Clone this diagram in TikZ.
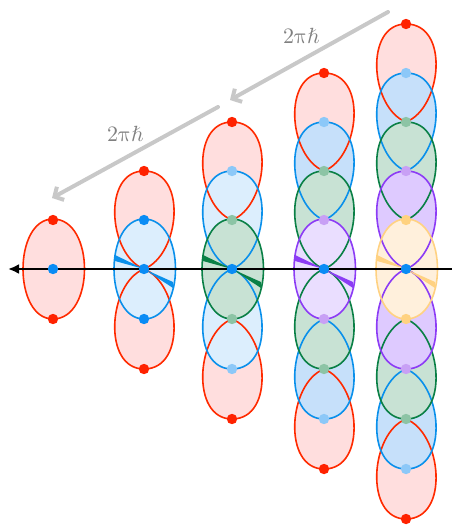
\documentclass[tikz,border=0pt]{standalone}
\usepackage{amsmath}
\usepackage{amssymb}
\usepackage{fontspec}
\usepackage{tikz}
\usetikzlibrary{arrows.meta}
\newfontfamily\hopfont{Latin Modern Math}

\definecolor{redline}{RGB}{255,42,0}
\definecolor{redfill}{RGB}{255,222,222}
\definecolor{reddot}{RGB}{255,34,0}
\definecolor{blueline}{RGB}{10,144,235}
\definecolor{bluedot}{RGB}{10,140,245}
\definecolor{bluefillA}{RGB}{220,238,253}
\definecolor{bluefillB}{RGB}{198,224,250}
\definecolor{lightbluedot}{RGB}{140,200,248}
\definecolor{greenline}{RGB}{10,128,70}
\definecolor{greenfill}{RGB}{200,226,212}
\definecolor{greendot}{RGB}{140,196,165}
\definecolor{purpleline}{RGB}{140,60,245}
\definecolor{purplefillA}{RGB}{234,222,255}
\definecolor{purplefillB}{RGB}{222,202,255}
\definecolor{purpledot}{RGB}{200,160,245}
\definecolor{yellowline}{RGB}{255,210,130}
\definecolor{yellowfill}{RGB}{255,240,220}
\definecolor{yellowdot}{RGB}{255,210,128}
\definecolor{hopgray}{RGB}{200,200,200}
\definecolor{labelgray}{RGB}{128,128,128}

% ring through the axis, level 1
\newcommand{\ringpath}[2]{\path[#1] (#2,219) .. controls +(-40,0) and +(-40,0) .. (#2,319) .. controls +(42,0) and +(42,0) .. (#2,219) -- cycle;}
% pair of lobes, level #3
\newcommand{\lobepair}[3]{%
\path[#1] (#2,{269-49*#3}) .. controls +(-42,0) and +(-36,-14) .. (#2,{269-49*(#3-2)}) .. controls +(36,-14) and +(44,0) .. (#2,{269-49*#3}) -- cycle;
\path[#1] (#2,{269+50*#3}) .. controls +(-42,0) and +(-36,14) .. (#2,{269+50*(#3-2)}) .. controls +(36,14) and +(44,0) .. (#2,{269+50*#3}) -- cycle;}
% twisted bit at the axis
\newcommand{\twist}[2]{\fill[#1] (#2,269) -- ({#2-29},255) -- ({#2-29},261) -- cycle; \fill[#1] (#2,269) -- ({#2+29},282) -- ({#2+29},288) -- cycle;}
\newcommand{\dotpair}[3]{\fill[#1] (#2,{269-49*#3}) circle (5.2pt); \fill[#1] (#2,{269+50*#3}) circle (5.2pt);}

\begin{document}
\begin{tikzpicture}[x=1pt,y=-1pt,
  ln/.style={line width=1.6pt},
  hop/.style={line width=4pt,draw=hopgray,line cap=round,-{Straight Barb[length=7pt,width=15pt]}},
  hoplabel/.style={text=labelgray,font=\hopfont\fontsize{22}{26}\selectfont},
  axis/.style={line width=2.6pt,-{Latex[length=11pt,width=10pt]}}]
\useasboundingbox (0,0) rectangle (452,525);
% fills
\ringpath{fill=redfill}{53}
\lobepair{fill=redfill}{144}{2}
\ringpath{fill=bluefillA}{144}
\lobepair{fill=redfill}{232}{3}
\lobepair{fill=bluefillA}{232}{2}
\ringpath{fill=greenfill}{232}
\lobepair{fill=redfill}{324}{4}
\lobepair{fill=bluefillB}{324}{3}
\lobepair{fill=greenfill}{324}{2}
\ringpath{fill=purplefillA}{324}
\lobepair{fill=redfill}{406}{5}
\lobepair{fill=bluefillB}{406}{4}
\lobepair{fill=greenfill}{406}{3}
\lobepair{fill=purplefillB}{406}{2}
\ringpath{fill=yellowfill}{406}
% outlines
\ringpath{ln,draw=redline}{53}
\lobepair{ln,draw=redline}{144}{2}
\ringpath{ln,draw=blueline}{144}
\lobepair{ln,draw=redline}{232}{3}
\lobepair{ln,draw=blueline}{232}{2}
\ringpath{ln,draw=greenline}{232}
\lobepair{ln,draw=redline}{324}{4}
\lobepair{ln,draw=blueline}{324}{3}
\lobepair{ln,draw=greenline}{324}{2}
\ringpath{ln,draw=purpleline}{324}
\lobepair{ln,draw=redline}{406}{5}
\lobepair{ln,draw=blueline}{406}{4}
\lobepair{ln,draw=greenline}{406}{3}
\lobepair{ln,draw=purpleline}{406}{2}
\ringpath{ln,draw=yellowline}{406}
\twist{blueline}{144}
\twist{greenline}{232}
\twist{purpleline}{324}
\twist{yellowline}{406}
% axis
\coordinate (ax-r) at (452,269);
\coordinate (ax-l) at (8,269);
\draw[axis] (ax-r) -- (ax-l);
% dots
\dotpair{reddot}{53}{1}
\dotpair{reddot}{144}{2}
\dotpair{bluedot}{144}{1}
\dotpair{reddot}{232}{3}
\dotpair{lightbluedot}{232}{2}
\dotpair{greendot}{232}{1}
\dotpair{reddot}{324}{4}
\dotpair{lightbluedot}{324}{3}
\dotpair{greendot}{324}{2}
\dotpair{purpledot}{324}{1}
\dotpair{reddot}{406}{5}
\dotpair{lightbluedot}{406}{4}
\dotpair{greendot}{406}{3}
\dotpair{purpledot}{406}{2}
\dotpair{yellowdot}{406}{1}
\foreach \x in {53,144,232,324,406}
  \fill[bluedot] (\x,269) circle (5.2pt);
% 2 pi hbar shifts
\coordinate (s1) at (388,12);
\coordinate (e1) at (230,100);
\coordinate (s2) at (218,107);
\coordinate (e2) at (52,198);
\draw[hop] (s1) -- (e1);
\draw[hop] (s2) -- (e2);
\node[hoplabel] (h1) at (302,36) {2πℏ};
\node[hoplabel] (h2) at (126,134) {2πℏ};
\end{tikzpicture}
\end{document}
